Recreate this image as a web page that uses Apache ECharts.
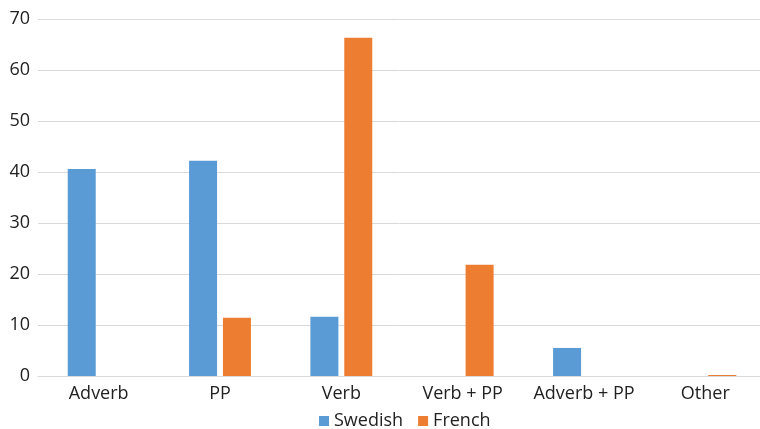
<!DOCTYPE html>
<html lang="en">
  <head>
    <meta charset="utf-8" />
    <script type="text/javascript" src="https://cdn.jsdelivr.net/npm/echarts@6/dist/echarts.min.js"></script>
    <title>Swedish vs French</title>
    <style>
      html, body { margin: 0; padding: 0; background: #fff; }
      #chart { width: 760px; height: 429px; }
    </style>
  </head>
  <body>
    <div id="chart"></div>
    <script>
      var categories = ['Adverb', 'PP', 'Verb', 'Verb + PP', 'Adverb + PP', 'Other']
      var swedish = [40.6, 42.2, 11.6, 0, 5.5, 0]
      var french = [0, 11.4, 66.3, 21.8, 0, 0.2]
      var yTicks = [0, 10, 20, 30, 40, 50, 60, 70]

      var font = 'Open Sans'
      var chart = echarts.init(document.getElementById('chart'), null, { renderer: 'canvas' })
      chart.setOption({
        animation: false,
        grid: { left: 38, right: -6, top: 19, bottom: 53, outerBoundsMode: 'none' },
        legend: {
          bottom: -6,
          left: 314,
          itemWidth: 10,
          itemHeight: 10,
          itemGap: 15,
          icon: 'rect',
          textStyle: { fontFamily: font, fontSize: 18, color: '#222' },
          data: ['Swedish', 'French']
        },
        xAxis: {
          type: 'category',
          data: categories,
          axisLine: { lineStyle: { color: '#d9d9d9', width: 1 } },
          axisTick: { show: false },
          axisLabel: { interval: 0, fontFamily: font, fontSize: 18, color: '#222', margin: 9 }
        },
        yAxis: {
          type: 'value',
          min: yTicks[0],
          max: yTicks[yTicks.length - 1],
          interval: 10,
          axisLine: { show: false },
          axisTick: { show: false },
          splitLine: { lineStyle: { color: '#d9d9d9', width: 1 } },
          axisLabel: { fontFamily: font, fontSize: 18, color: '#222', margin: 8 }
        },
        series: [
          {
            name: 'Swedish',
            type: 'bar',
            data: swedish,
            barWidth: 28,
            barGap: '21%',
            itemStyle: { color: '#5b9bd5' }
          },
          {
            name: 'French',
            type: 'bar',
            data: french,
            barWidth: 28,
            itemStyle: { color: '#ed7d31' }
          }
        ]
      })
    </script>
  </body>
</html>
